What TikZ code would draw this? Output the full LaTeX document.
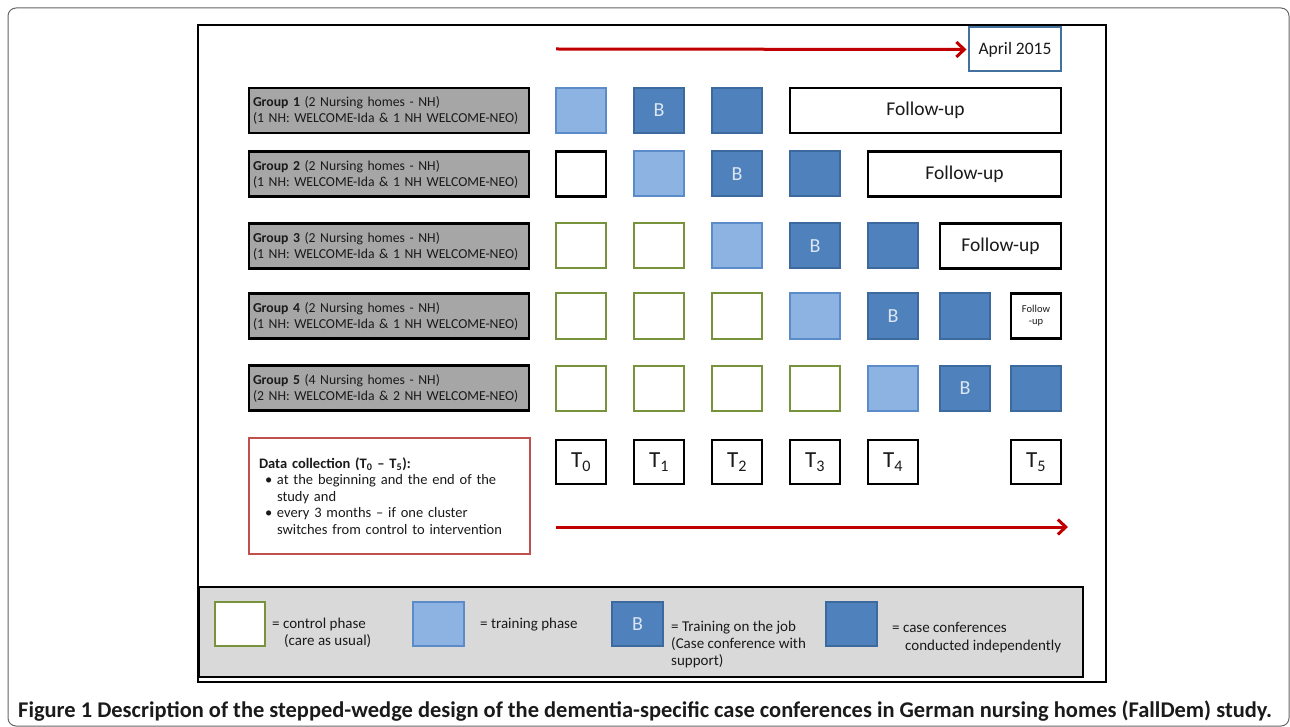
\documentclass[tikz,border=0pt]{standalone}
\usepackage{fontspec}
\setmainfont{Carlito}
\usetikzlibrary{arrows.meta}
\definecolor{lightblue}{HTML}{8DB3E2}
\definecolor{lbborder}{HTML}{5B8BC9}
\definecolor{darkblue}{HTML}{4F81BD}
\definecolor{dbborder}{HTML}{3D6A9E}
\definecolor{ctrlgreen}{HTML}{77933C}
\definecolor{grpgray}{HTML}{A6A6A6}
\definecolor{leggray}{HTML}{D9D9D9}
\definecolor{aprilblue}{HTML}{41719C}
\definecolor{dcred}{HTML}{C0504D}
\definecolor{arrred}{HTML}{C00000}
\definecolor{btext}{HTML}{DCE6F2}
\definecolor{textdark}{HTML}{1A1A1A}
\tikzset{
  sq/.style={minimum width=50pt, minimum height=45pt, inner sep=0pt, line width=2pt},
  ctrl/.style={sq, draw=ctrlgreen, fill=white},
  train/.style={sq, draw=lbborder, fill=lightblue},
  onjob/.style={sq, draw=dbborder, fill=darkblue, text=btext, font=\fontsize{20}{20}\selectfont},
  conf/.style={sq, draw=dbborder, fill=darkblue},
  wsq/.style={sq, draw=black, fill=white, line width=2.2pt},
  fu/.style={draw=black, fill=white, line width=2.4pt, inner sep=0pt, minimum height=45pt, font=\fontsize{19.5}{20}\selectfont, text=textdark},
  grp/.style={draw=black, line width=2.8pt, fill=grpgray, minimum height=45pt, text width=272pt, inner xsep=4pt, inner ysep=0pt, align=left, font=\fontsize{13.7}{16}\selectfont, text=textdark},
  tbox/.style={draw=black, fill=white, line width=2pt, minimum width=50pt, minimum height=44pt, inner sep=0pt, font=\fontsize{23}{23}\selectfont, text=textdark},
  legtxt/.style={anchor=base west, inner sep=0pt, font=\fontsize{15}{17}\selectfont, text=textdark},
  redarrow/.style={draw=arrred, line width=3pt, -{Straight Barb[length=8pt,width=15pt]}}
}
\begin{document}
\begin{tikzpicture}[x=1pt,y=-1pt]
\useasboundingbox (0,0) rectangle (1290,727);
% frames
\draw[draw=black!60, line width=1pt, rounded corners=8pt] (8,8) rectangle (1289,726);
\draw[draw=black, line width=2pt] (198,25) rectangle (1106,682);

% top arrow and April box
\node[draw=aprilblue, fill=white, line width=2pt, minimum width=92pt, minimum height=44pt, inner sep=0pt, font=\fontsize{17.5}{17.5}\selectfont, text=textdark] (april) at (1015,49.5) {April 2015};
\coordinate (tstart) at (556,49);
\draw[redarrow] (tstart) -- ([xshift=-1.5pt]april.west);

% group labels
\node[grp] (g1) at (389,110.5) {\textbf{Group 1} (2 Nursing homes - NH)\\(1 NH: WELCOME-Ida \& 1 NH WELCOME-NEO)};
\node[grp] (g2) at (389,174) {\textbf{Group 2} (2 Nursing homes - NH)\\(1 NH: WELCOME-Ida \& 1 NH WELCOME-NEO)};
\node[grp] (g3) at (389,246) {\textbf{Group 3} (2 Nursing homes - NH)\\(1 NH: WELCOME-Ida \& 1 NH WELCOME-NEO)};
\node[grp] (g4) at (389,316) {\textbf{Group 4} (2 Nursing homes - NH)\\(1 NH: WELCOME-Ida \& 1 NH WELCOME-NEO)};
\node[grp] (g5) at (389,388) {\textbf{Group 5} (4 Nursing homes - NH)\\(2 NH: WELCOME-Ida \& 2 NH WELCOME-NEO)};

% row 1
\node[train] (r1c1) at (581,110.5) {};
\node[onjob] (r1c2) at (659,110.5) {B};
\node[conf]  (r1c3) at (737,110.5) {};
\node[fu, minimum width=271pt] (r1fu) at (925.5,110.5) {Follow-up};
% row 2
\node[wsq]   (r2c1) at (581,174) {};
\node[train] (r2c2) at (659,174) {};
\node[onjob] (r2c3) at (737,174) {B};
\node[conf]  (r2c4) at (815,174) {};
\node[fu, minimum width=193pt] (r2fu) at (964.5,174) {Follow-up};
% row 3
\node[ctrl]  (r3c1) at (581,246) {};
\node[ctrl]  (r3c2) at (659,246) {};
\node[train] (r3c3) at (737,246) {};
\node[onjob] (r3c4) at (815,246) {B};
\node[conf]  (r3c5) at (893,246) {};
\node[fu, minimum width=121pt] (r3fu) at (1000.5,246) {Follow-up};
% row 4
\node[ctrl]  (r4c1) at (581,316) {};
\node[ctrl]  (r4c2) at (659,316) {};
\node[ctrl]  (r4c3) at (737,316) {};
\node[train] (r4c4) at (815,316) {};
\node[onjob] (r4c5) at (893,316) {B};
\node[conf]  (r4c6) at (965,316) {};
\node[fu, minimum width=50pt, align=center, font=\fontsize{10.5}{12}\selectfont] (r4fu) at (1036,316) {Follow\\-up};
% row 5
\node[ctrl]  (r5c1) at (581,388) {};
\node[ctrl]  (r5c2) at (659,388) {};
\node[ctrl]  (r5c3) at (737,388) {};
\node[ctrl]  (r5c4) at (815,388) {};
\node[train] (r5c5) at (893,388) {};
\node[onjob] (r5c6) at (965,388) {B};
\node[conf]  (r5c7) at (1036,388) {};

% data collection
\node[draw=dcred, line width=1.8pt, fill=white, minimum width=281pt, minimum height=116pt, text width=269pt, inner xsep=6pt, inner ysep=0pt, align=left, font=\fontsize{14.5}{16.5}\selectfont, text=textdark] (dc) at (389.5,496)
{\hspace*{4pt}\textbf{Data collection (T\textsubscript{0} – T\textsubscript{5}):}\\
\hspace*{10pt}\makebox[12pt][l]{•}at the beginning and the end of the\\
\hspace*{22pt}study and\\
\hspace*{10pt}\makebox[12pt][l]{•}every 3 months – if one cluster\\
\hspace*{22pt}switches from control to intervention};

% T boxes
\node[tbox] (t0) at (581,462) {T\textsubscript{0}};
\node[tbox] (t1) at (659,462) {T\textsubscript{1}};
\node[tbox] (t2) at (737,462) {T\textsubscript{2}};
\node[tbox] (t3) at (815,462) {T\textsubscript{3}};
\node[tbox] (t4) at (893,462) {T\textsubscript{4}};
\node[tbox] (t5) at (1036,462) {T\textsubscript{5}};

% bottom arrow
\coordinate (bstart) at (556,527);
\coordinate (bend) at (1068,527);
\draw[redarrow] (bstart) -- (bend);

% legend
\node[draw=black, line width=2.5pt, fill=leggray, minimum width=884pt, minimum height=90pt, inner sep=0pt] (leg) at (641,632) {};
\node[ctrl, minimum height=44pt]  (lc) at (240,624) {};
\node[train, minimum width=51pt, minimum height=44pt] (lt) at (438.5,624) {};
\node[onjob, minimum width=51pt, minimum height=44pt] (lb) at (637.5,624) {B};
\node[conf, minimum width=51pt, minimum height=44pt]  (lf) at (851.5,624) {};
\node[legtxt] (lc1) at (272,628) {= control phase};
\node[legtxt] (lc2) at (284,645) {(care as usual)};
\node[legtxt] (lt1) at (480,628) {= training phase};
\node[legtxt] (lb1) at (671,631) {= Training on the job};
\node[legtxt] (lb2) at (671,648) {(Case conference with};
\node[legtxt] (lb3) at (671,665) {support)};
\node[legtxt] (lf1) at (892,632) {= case conferences};
\node[legtxt] (lf2) at (905,650) {conducted independently};

% caption
\node[anchor=base west, inner sep=0pt, text=textdark] (cap) at (18,717)
{\resizebox{1254pt}{!}{\fontsize{20}{20}\selectfont\bfseries Figure 1 Description of the stepped-wedge design of the dementia-specific case conferences in German nursing homes (FallDem) study.}};
\end{tikzpicture}
\end{document}
